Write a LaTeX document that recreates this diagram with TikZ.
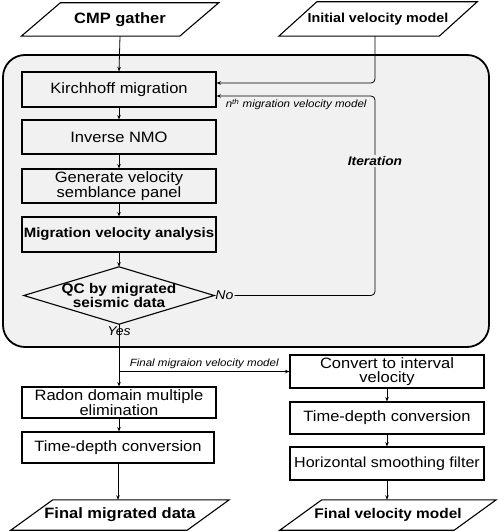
\documentclass[tikz,border=0pt]{standalone}
\usepackage{fontspec}
\setmainfont{Liberation Sans}[FakeStretch=1.1]
\usetikzlibrary{arrows.meta,calc}
\definecolor{panelbg}{RGB}{241,241,241}
\newcommand\paradraw[2]{\draw[line width=1.1pt] ($(#1.north west)+(#2,0)$) -- ($(#1.north east)+(#2,0)$) -- ($(#1.south east)-(#2,0)$) -- ($(#1.south west)-(#2,0)$) -- cycle;}
\begin{document}
\begin{tikzpicture}[x=1pt,y=-1pt,
 box/.style={draw, line width=1.1pt, minimum width=194pt, minimum height=34pt, align=center, inner sep=1pt, font=\fontsize{15}{14.5}\selectfont},
 io/.style={minimum height=34pt, inner sep=0pt, font=\bfseries\fontsize{15}{17}\selectfont},
 arr/.style={-{Stealth[length=4.5pt,width=3.5pt]}, line width=0.8pt},
 lbl/.style={font=\itshape\fontsize{10.5}{12}\selectfont, inner sep=1pt},
 ans/.style={font=\itshape\fontsize{12.8}{14}\selectfont, inner sep=1pt},
]
\useasboundingbox (0,0) rectangle (498,532);
% panel
\node[draw, line width=1.8pt, rounded corners=22pt, fill=panelbg, minimum width=486pt, minimum height=292pt] (frame) at (246,201) {};
% inputs
\node[io, minimum width=158pt, minimum height=33pt] (cmp) at (120,19.5) {CMP gather};
\paradraw{cmp}{19.5}
\node[io, minimum width=160pt, font=\bfseries\fontsize{13}{15}\selectfont] (init) at (378,19) {Initial velocity model};
\paradraw{init}{19}
% left column
\node[box, minimum height=35pt] (kirch) at (119,89.5) {Kirchhoff migration};
\node[box] (inv) at (119,137) {Inverse NMO};
\node[box] (gen) at (119,186) {Generate velocity\\semblance panel};
\node[box, minimum height=35pt, font=\bfseries\fontsize{13.6}{15}\selectfont] (mva) at (119,234.5) {Migration velocity analysis};
\node[minimum width=190pt, minimum height=57pt, inner sep=0pt, align=center, font=\bfseries\fontsize{14}{13}\selectfont] (qc) at (119,295.5) {QC by migrated\\seismic data};
\draw[line width=1.1pt] (qc.west) -- (qc.north) -- (qc.east) -- (qc.south) -- cycle;
\node[ans, anchor=west] (no) at (qc.east) {No};
\node[ans] (yes) at (119,331) {Yes};
\node[box, minimum height=31pt] (radon) at (119,402.5) {Radon domain multiple\\elimination};
\node[box, minimum height=31pt, minimum width=192pt] (tdl) at (118,447.5) {Time-depth conversion};
\node[io, minimum width=176pt, minimum height=30pt] (fmd) at (120,515) {Final migrated data};
\paradraw{fmd}{21}
% right column
\node[box, minimum height=33pt] (conv) at (387,371.5) {Convert to interval\\velocity};
\node[box, minimum height=32pt] (tdr) at (387,418) {Time-depth conversion};
\node[box, minimum height=33pt, font=\fontsize{14.6}{14}\selectfont] (hsf) at (387,463.5) {Horizontal smoothing filter};
\node[io, minimum width=174pt, minimum height=30pt, font=\bfseries\fontsize{14}{16}\selectfont] (fvm) at (388,515) {Final velocity model};
\paradraw{fvm}{21}
% connectors
\coordinate (loop) at (375,60);
\draw[arr] (cmp.south) -- (kirch.north);
\draw[arr, rounded corners=4pt] (init.south -| loop) |- ($(kirch.east)+(0,-6.5)$);
\draw[arr, rounded corners=4pt] (no.east) -- (no.east -| loop) |- ($(kirch.east)+(0,6.5)$);
\node[lbl, anchor=north west] (nth) at ($(kirch.east)+(8,8)$) {n\textsuperscript{th} migration velocity model};
\node[font=\bfseries\itshape\fontsize{12.5}{14}\selectfont, fill=panelbg, inner sep=1.5pt] (iter) at (loop |- 0,161) {Iteration};
\draw[arr] (kirch.south) -- (inv.north);
\draw[arr] (inv.south) -- (gen.north);
\draw[arr] (gen.south) -- (mva.north);
\draw[arr] (mva.south) -- (qc.north);
\coordinate (br) at (qc.south |- conv.west);
\draw[line width=0.8pt] (qc.south) -- (br);
\draw[arr] (br) -- (radon.north);
\draw[arr] (br) -- (conv.west);
\node[lbl, anchor=south] (fmlbl) at ($(br)!0.5!(conv.west)+(0,-2)$) {Final migraion velocity model};
\draw[arr] (radon.south) -- (radon.south |- tdl.north);
\draw[arr] (tdl.south) -- (tdl.south |- fmd.north);
\draw[arr] (conv.south) -- (tdr.north);
\draw[arr] (tdr.south) -- (hsf.north);
\draw[arr] (hsf.south) -- (hsf.south |- fvm.north);
\end{tikzpicture}
\end{document}
